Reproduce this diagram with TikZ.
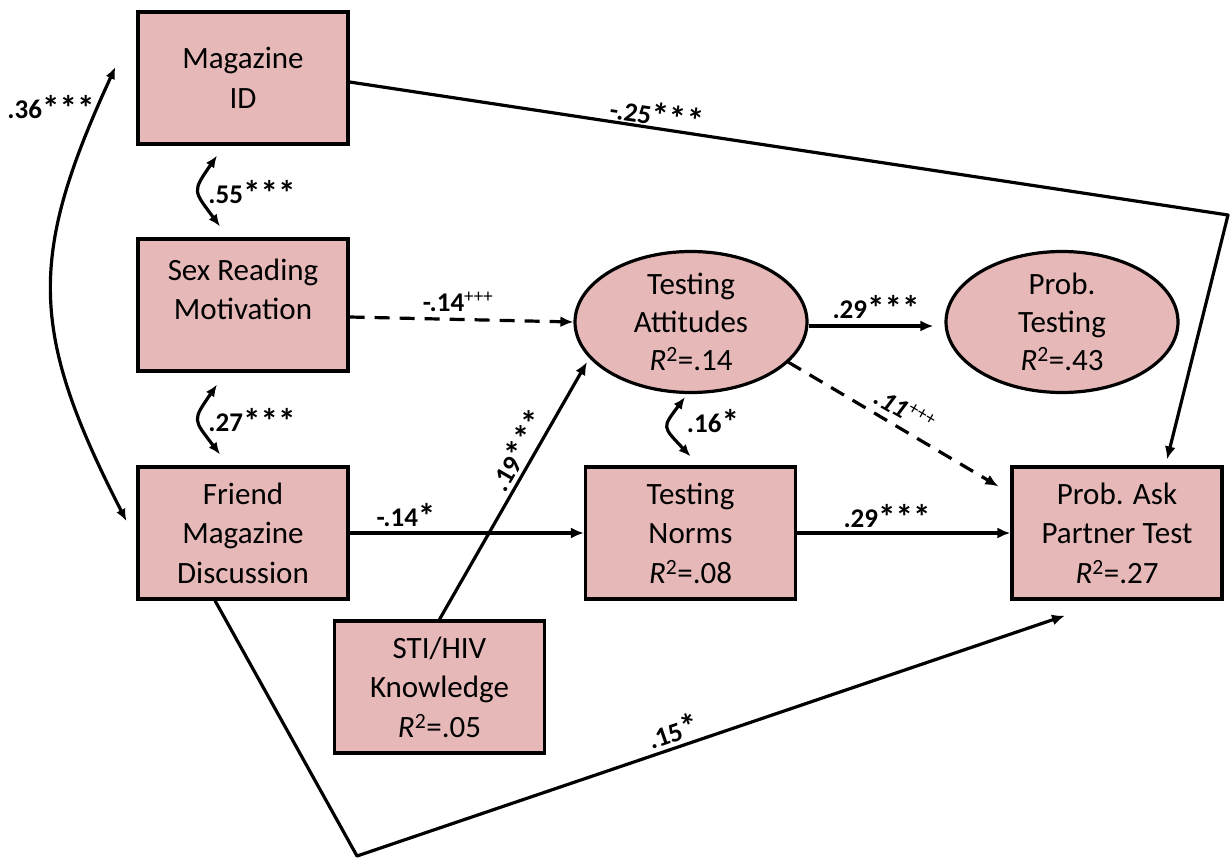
\documentclass[tikz,border=0pt]{standalone}
\usepackage{fontspec}
\setmainfont{Carlito}
\usetikzlibrary{arrows.meta,shapes.geometric,calc}
\definecolor{boxfill}{RGB}{230,185,184}
\newcommand{\rsq}[1]{\textit{R}\textsuperscript{2}=#1}
\newcommand{\sig}{\raisebox{-0.06em}{\scalebox{1.3}{*}}}
\begin{document}
\begin{tikzpicture}[x=1pt,y=-1pt,
  var/.style={draw=black,line width=3.2pt,fill=boxfill,minimum width=210pt,
    minimum height=132pt,inner sep=0pt,align=center,
    font=\fontsize{31}{39.5}\selectfont},
  latent/.style={draw=black,line width=3.2pt,fill=boxfill,ellipse,
    minimum width=232pt,minimum height=141pt,inner sep=0pt},
  inside/.style={align=center,font=\fontsize{31}{38}\selectfont,inner sep=0pt},
  effect/.style={line width=3.2pt,-{Latex[length=13pt,width=11pt]}},
  weak/.style={effect,dash pattern=on 15pt off 10pt},
  corr/.style={line width=3.2pt,{Latex[length=12pt,width=10pt]}-{Latex[length=12pt,width=10pt]}},
  coef/.style={font=\fontsize{27}{30}\selectfont\bfseries,inner sep=0pt}
]
\useasboundingbox (0,0) rectangle (1230,859);

% observed variables
\node[var] (magid)   at (243,78)    {Magazine\\ID};
\node[var] (sexread) at (243,305)   {Sex Reading\\Motivation\\[-8pt]\mbox{}};
\node[var] (friend)  at (243,533)   {Friend\\Magazine\\Discussion};
\node[var] (sti)     at (439.5,687) {STI/HIV\\Knowledge\\\rsq{.05}};
\node[var] (norms)   at (690.5,533) {Testing\\Norms\\\rsq{.08}};
\node[var] (ask)     at (1117,533)  {Prob. Ask\\Partner Test\\\rsq{.27}};

% latent variables
\node[latent,label={[inside]center:{Testing\\Attitudes\\\rsq{.14}}}] (att) at (691,322) {};
\node[latent,label={[inside]center:{Prob.\\Testing\\\rsq{.43}}}] (ptest) at (1062,322) {};

% end points of the correlation arcs and the bent paths
\coordinate (a36) at ($(magid.west)+(-21,-11)$);
\coordinate (b36) at ($(friend.west)+(-10,-12)$);
\coordinate (a55) at ($(magid.south)+(-26,10)$);
\coordinate (b55) at ($(sexread.north)+(-23,-11)$);
\coordinate (a27) at ($(sexread.south)+(-26,12)$);
\coordinate (b27) at ($(friend.north)+(-23,-11)$);
\coordinate (a16) at ($(att.south)+(-6,3)$);
\coordinate (b16) at ($(norms.north)+(0,-9)$);
\coordinate (rightbend) at (1228,215);
\coordinate (lowbend) at (357,856);

% correlations
\draw[corr] (a36) .. controls (28,257) and (29,331) .. (b36);
\draw[corr] (a55) .. controls (192,192) and (193,190) .. (b55);
\draw[corr] (a27) .. controls (192,421) and (193,419) .. (b27);
\draw[corr] (a16) .. controls (662,428) and (662,426) .. (b16);

% direct effects
\draw[effect,line join=round] ($(magid.east)+(0,4)$) -- (rightbend) -- ($(ask.north)+(50,-6)$);
\draw[weak] ($(sexread.east)+(0,12)$) -- (att.west);
\draw[effect,shorten >=11pt] ($(att.east)+(0,4)$) -- ($(ptest.west)+(0,4)$);
\draw[weak] ($(att.center)+(97,40)$) -- ($(ask.north west)+(-12,21)$);
\draw[effect] (sti.north) -- ($(att.center)+(-104,40)$);
\draw[effect] (friend.east) -- (norms.west);
\draw[effect] (norms.east) -- (ask.west);
\draw[effect,line join=round] ($(friend.south)+(-28,0)$) -- (lowbend) -- ($(ask.south)+(-52,15)$);

% coefficients
\node[coef] (c36) at (51,108) {.36\sig\sig\sig};
\node[coef,rotate=-8.6] (c25) at (657,115) {-.25\sig\sig\sig};
\node[coef] (c55) at (252,193) {.55\sig\sig\sig};
\node[coef] (c27) at (252,421) {.27\sig\sig\sig};
\node[coef] (c14a) at (458,302) {-.14\textsuperscript{\mdseries +++}};
\node[coef] (c29a) at (876,308) {.29\sig\sig\sig};
\node[coef,rotate=-30] (c11) at (905,410) {\itshape .11\textsuperscript{\upshape\mdseries +++}};
\node[coef] (c16) at (713,422) {.16\sig};
\node[coef] (c14b) at (406,516) {-.14\sig};
\node[coef] (c29b) at (887,517) {.29\sig\sig\sig};
\node[coef,rotate=60] (c19) at (518,450) {.19\sig\sig\sig};
\node[coef,rotate=19] (c15) at (673,731) {.15\sig};
\end{tikzpicture}
\end{document}
